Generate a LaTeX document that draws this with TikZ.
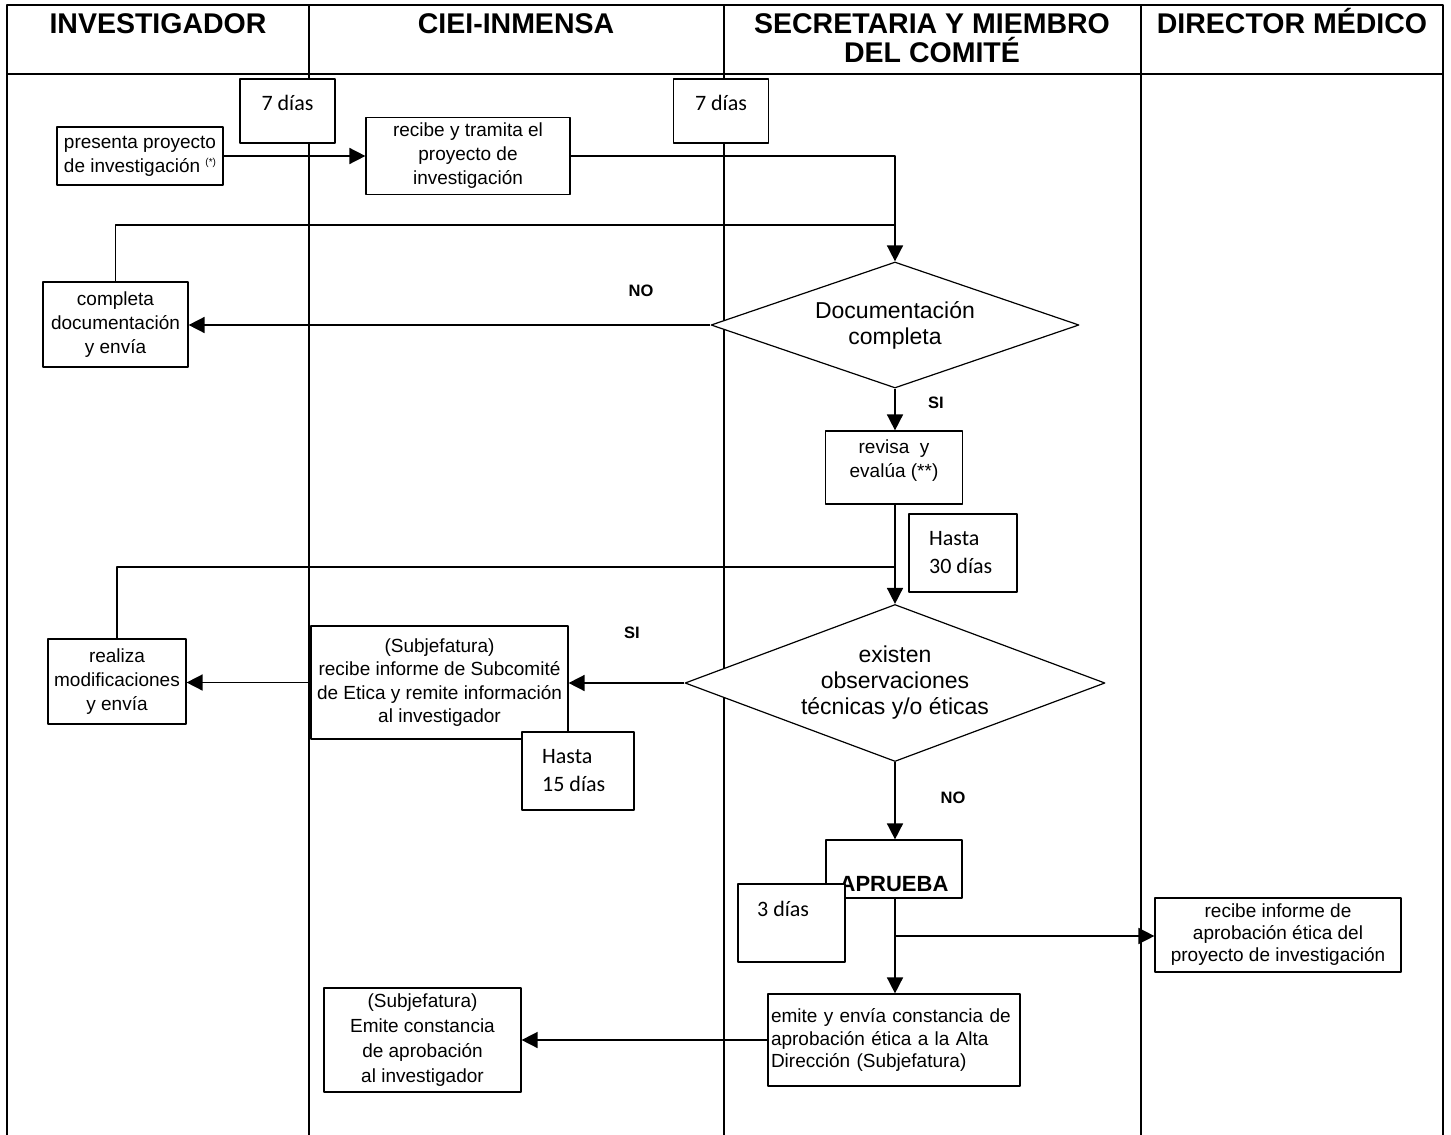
\documentclass[tikz,border=0pt]{standalone}
\usepackage{fontspec}
\setmainfont{Liberation Sans}
\newfontfamily\calib{Carlito}
\usetikzlibrary{shapes.geometric,arrows.meta,calc,positioning}

\begin{document}
\begin{tikzpicture}[x=1pt,y=-1pt,line join=round,
  box/.style={draw,line width=1.2pt,fill=white,inner sep=0pt,align=center,font=\fontsize{19}{24}\selectfont},
  daybox/.style={draw,line width=1.2pt,fill=white,inner sep=0pt},
  daytxt/.style={font=\calib\fontsize{22}{28}\selectfont,align=left,inner sep=0pt},
  decis/.style={draw,diamond,line width=1.2pt,fill=white,inner sep=0pt,align=center,font=\fontsize{23}{26}\selectfont},
  flow/.style={line width=1.6pt,-{Triangle[length=16pt,width=16pt]}},
  link/.style={line width=1.6pt},
  tag/.style={font=\fontsize{16.5}{18}\selectfont\bfseries},
  head/.style={font=\fontsize{28.5}{29}\selectfont\bfseries,align=center,anchor=base}]
\useasboundingbox (0,0) rectangle (1451,1135);
\draw[line width=2.5pt] (7,1140) -- (7,5) -- (1443,5) -- (1443,1140);
\draw[line width=2.5pt] (7,74) -- (1443,74);
\foreach \x in {309,724,1141} \draw[line width=2pt] (\x,5) -- (\x,1140);
\foreach \x/\y/\t [count=\i] in {158/33/INVESTIGADOR,516/33/CIEI-INMENSA,932/62/{SECRETARIA Y MIEMBRO\\DEL COMITÉ},1292/33/DIRECTOR MÉDICO}
  \node[head] (h\i) at (\x,\y) {\t};

\node[box,minimum width=166pt,minimum height=58pt] (pres) at (140,156) {presenta proyecto\\de investigación {\fontsize{10}{10}\selectfont\raisebox{7pt}{(*)}}};
\node[box,minimum width=204pt,minimum height=77pt] (trami) at (468,156) {recibe y tramita el\\proyecto de\\investigación};
\node[box,minimum width=145pt,minimum height=85pt] (compl) at (115.5,324.5) {completa\\documentación\\y envía};
\node[decis,aspect=2.9,minimum width=368pt,minimum height=126pt] (doc) at (895,325) {Documentación\\completa};
\node[box,minimum width=137pt,minimum height=73pt] (revisa) at (894,467.5) {revisa\ \ y\\evalúa (**)\\[-6pt]};
\node[decis,aspect=2.67,minimum width=420pt,minimum height=157pt] (obs) at (895,683) {existen\\observaciones\\técnicas y/o éticas};
\node[box,minimum width=257pt,minimum height=113pt,font=\fontsize{19}{23.5}\selectfont] (subj) at (439.5,682.5) {(Subjefatura)\\recibe informe de Subcomité\\de Etica y remite información\\al investigador};
\node[box,minimum width=138pt,minimum height=85pt] (realiza) at (117,681.5) {realiza\\modificaciones\\y envía};
\node[box,minimum width=136pt,minimum height=58pt] (aprueba) at (894,869) {};
\node[font=\fontsize{22}{24}\selectfont\bfseries] (aprtxt) at (894,884) {APRUEBA};
\node[box,minimum width=246pt,minimum height=74pt,font=\fontsize{19}{22}\selectfont] (recinf) at (1278,935) {recibe informe de\\aprobación ética del\\proyecto de investigación};
\node[box,align=left,text width=246pt,inner xsep=3pt,minimum height=92pt,font=\fontsize{19}{22.5}\selectfont] (emite) at (894,1040) {emite y envía constancia de\\aprobación ética a la Alta\\Dirección (Subjefatura)\\[-4pt]};
\node[box,minimum width=197pt,minimum height=104pt,font=\fontsize{19}{25}\selectfont] (emcons) at (422.5,1040) {(Subjefatura)\\Emite constancia\\de aprobación\\al investigador};

\coordinate (j1) at (895,225);
\coordinate (j2) at (895,567);
\coordinate (j3) at (895,936);
\draw[flow] (pres.east) -- (pres.east -| trami.west);
\draw[flow] (trami.east) -| (doc.north);
\draw[link] (compl.north) |- (j1);
\draw[flow] (doc.west) -- (doc.west -| compl.east);
\draw[flow] (doc.south) -- (doc.south |- revisa.north);
\draw[flow] (revisa.south -| obs.north) -- (obs.north);
\draw[link] (realiza.north) |- (j2);
\draw[flow] (obs.west) -- (obs.west -| subj.east);
\draw[flow] (subj.west) -- (subj.west -| realiza.east);
\draw[flow] (obs.south) -- (obs.south |- aprueba.north);
\draw[flow] (aprueba.south -| obs.south) -- (obs.south |- emite.north);
\draw[flow] (j3) -- (j3 -| recinf.west);
\draw[flow] (emite.west) -- (emite.west -| emcons.east);

\node[daybox,minimum width=95pt,minimum height=64pt] (d7a) at (287.5,111) {};
\node[daytxt] (t7a) at (287.5,103) {7 días};
\node[daybox,minimum width=95pt,minimum height=64pt] (d7b) at (721,111) {};
\node[daytxt] (t7b) at (721,103) {7 días};
\node[daybox,minimum width=108pt,minimum height=78pt] (d30) at (963,553) {};
\node[daytxt,anchor=west] (t30) at (929,553) {Hasta\\30 días};
\node[daybox,minimum width=112pt,minimum height=78pt] (d15) at (578,771) {};
\node[daytxt,anchor=west] (t15) at (542,771) {Hasta\\15 días};
\node[daybox,minimum width=107pt,minimum height=78pt] (d3) at (791.5,923) {};
\node[daytxt,anchor=west] (t3) at (757,909) {3 días};

\foreach \n/\x/\y/\t in {no1/641/291/NO,si1/936/403/SI,si2/632/633/SI,no2/953/798/NO}
  \node[tag] (\n) at (\x,\y) {\t};
\end{tikzpicture}
\end{document}
